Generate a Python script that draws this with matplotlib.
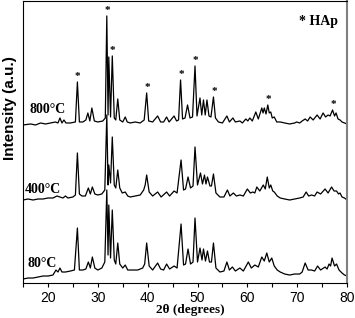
import matplotlib
matplotlib.use('Agg')
import matplotlib.pyplot as plt
import numpy as np

# 2theta (deg) and intensity above each pattern's own baseline (a.u.)
tt_800 = [15.0, 16.5, 17.5, 18.5, 19.5, 20.5, 21.5, 22.0, 22.4, 22.8, 23.2, 23.6, 24.5, 25.5, 25.9, 26.3,
          27.0, 27.6, 28.0, 28.4, 28.8, 29.3, 30.0, 31.0, 31.5, 31.8, 32.05, 32.2, 32.55, 32.9, 33.3, 33.6,
          34.0, 34.4, 35.0, 35.5, 35.9, 36.5, 37.5, 38.5, 39.3, 39.8, 40.2, 41.0, 42.0, 42.6, 43.2, 43.8,
          44.3, 45.3, 45.8, 46.2, 46.6, 47.0, 47.5, 48.0, 48.5, 49.0, 49.5, 49.9, 50.5, 50.85, 51.2, 51.55,
          51.9, 52.3, 52.7, 53.2, 53.6, 54.2, 55.0, 55.9, 56.4, 57.1, 57.6, 58.5, 59.0, 59.7, 60.1, 60.5,
          61.0, 61.7, 62.2, 62.9, 63.15, 63.4, 63.75, 64.1, 64.4, 64.7, 65.0, 65.4, 65.9, 66.6, 67.5, 68.5,
          69.5, 69.9, 70.5, 71.0, 71.6, 72.1, 72.6, 73.2, 74.0, 74.6, 75.2, 75.7, 76.2, 76.6, 77.1, 77.5,
          77.8, 78.2, 78.6, 79.0, 79.5, 80.0]
int_800 = [-1, 0, -1, 1, 0, 1, 2, 1, 6, 1, 4, 1, 1, 2, 42, 2,
           2, 4, 11, 3, 16, 3, 2, 3, 6, 108, 9, 67, 7, 68, 6, 4,
           25, 4, 2, 7, 2, 1, 2, 1, 4, 31, 3, 2, 8, 2, 2, 7,
           2, 8, 3, 4, 44, 5, 6, 19, 6, 7, 58, 8, 26, 9, 24, 9,
           24, 8, 7, 27, 6, 2, 1, 8, 2, 6, 2, 3, 1, 5, 3, 6,
           3, 12, 5, 16, 11, 16, 10, 19, 11, 12, 6, 7, 2, 2, 1, 0,
           1, 2, 1, 3, 5, 3, 7, 4, 9, 5, 11, 7, 9, 8, 14, 8,
           11, 5, 4, 2, 1, 0]

tt_400 = [15.0, 16.0, 17.0, 18.0, 19.0, 20.0, 21.0, 21.8, 22.4, 23.0, 23.5, 24.0, 25.0, 25.5, 25.9, 26.3,
          26.8, 27.5, 28.1, 28.5, 28.9, 29.4, 30.0, 30.8, 31.4, 31.8, 32.05, 32.2, 32.55, 32.9, 33.3, 33.6,
          34.0, 34.4, 34.9, 35.5, 36.0, 36.5, 37.5, 38.5, 39.2, 39.5, 39.8, 40.3, 41.0, 42.0, 42.7, 43.8,
          44.4, 45.3, 45.9, 46.7, 47.2, 47.6, 48.1, 48.6, 49.1, 49.5, 50.0, 50.6, 51.0, 51.4, 51.7, 52.0,
          52.5, 52.8, 53.2, 53.7, 54.5, 55.3, 56.0, 56.5, 57.2, 57.8, 58.5, 59.2, 60.0, 60.6, 61.1, 61.5,
          61.9, 62.5, 63.2, 63.6, 64.0, 64.4, 64.7, 65.1, 65.4, 66.0, 66.6, 67.5, 68.5, 69.5, 70.5, 71.2,
          71.8, 72.3, 72.9, 73.5, 74.0, 74.7, 75.6, 76.2, 76.9, 77.4, 77.9, 78.3, 78.6, 79.0, 79.5, 80.0]
int_400 = [-1, 0, -1, 0, 0, 1, 1, 3, 2, 1, 3, 1, 2, 4, 46, 5,
           3, 3, 11, 5, 12, 5, 4, 5, 9, 84, 14, 34, 16, 62, 14, 11,
           29, 11, 6, 7, 3, 2, 3, 4, 9, 14, 24, 7, 3, 7, 2, 7,
           3, 8, 6, 39, 9, 10, 22, 11, 13, 52, 14, 26, 15, 24, 15, 22,
           13, 13, 25, 6, 2, 2, 9, 3, 6, 3, 4, 3, 10, 6, 7, 6,
           12, 8, 14, 10, 22, 11, 14, 8, 7, 3, 1, 0, -1, 0, 1, 2,
           7, 3, 4, 3, 7, 5, 10, 6, 12, 8, 8, 5, 6, 2, 1, -1]

tt_80 = [15.0, 16.0, 17.0, 18.0, 19.0, 20.0, 21.0, 21.6, 22.0, 22.4, 22.8, 23.5, 24.5, 25.3, 25.9, 26.3,
         27.0, 27.6, 28.1, 28.5, 28.9, 29.4, 30.0, 30.8, 31.4, 31.8, 32.05, 32.2, 32.55, 32.9, 33.3, 33.6,
         34.0, 34.4, 35.0, 35.5, 36.0, 37.0, 38.0, 39.0, 39.4, 39.8, 40.3, 41.0, 42.0, 42.6, 43.2, 43.8,
         44.4, 45.3, 45.9, 46.7, 47.2, 47.6, 48.1, 48.6, 49.1, 49.5, 50.0, 50.5, 50.9, 51.2, 51.6, 52.0,
         52.4, 52.8, 53.2, 53.7, 54.5, 55.3, 55.9, 56.4, 57.0, 57.6, 58.5, 59.2, 60.2, 60.8, 61.5, 62.2,
         62.9, 63.4, 63.9, 64.4, 64.9, 65.4, 66.0, 66.6, 67.5, 68.5, 69.5, 70.5, 71.0, 71.6, 72.2, 72.9,
         73.5, 74.1, 74.7, 75.6, 76.0, 76.4, 76.7, 77.0, 77.5, 77.9, 78.4, 79.0, 79.5, 80.0]
int_80 = [-3, -2, -2, -1, 0, 0, 1, 6, 4, 8, 4, 4, 5, 6, 48, 6,
          6, 7, 14, 8, 19, 8, 6, 8, 14, 86, 21, 71, 18, 66, 16, 12,
          33, 12, 8, 11, 6, 6, 6, 8, 12, 33, 10, 6, 13, 7, 6, 12,
          7, 10, 8, 52, 11, 12, 27, 12, 14, 58, 14, 28, 16, 27, 15, 25,
          14, 14, 33, 8, 4, 5, 14, 6, 9, 5, 8, 5, 14, 8, 11, 9,
          19, 15, 23, 14, 18, 10, 6, 4, 2, 1, 2, 2, 4, 13, 6, 6,
          5, 10, 6, 9, 7, 12, 10, 18, 10, 12, 6, 3, 1, 0]

labels = ['800°C', '400°C', '80°C']
offsets = [159, 84, 7]
hap_peaks = [25.9, 31.8, 32.9, 39.8, 46.6, 49.5, 53.2, 64.1, 77.1]

fig = plt.figure(figsize=(3.55, 3.18), dpi=100)
ax = fig.add_axes([0.065, 0.110, 0.9125, 0.887])

series = [(tt_800, int_800), (tt_400, int_400), (tt_80, int_80)]
for (tt, inten), off in zip(series, offsets):
    ax.plot(tt, np.array(inten) + off, color='black', linewidth=0.9)

# label positions (2theta, height above pattern baseline)
label_pos = [(16.2, 11), (15.4, 6), (15.8, 9)]
for lab, off, (lx, ly) in zip(labels, offsets, label_pos):
    ax.text(lx, off + ly, lab, fontfamily='Liberation Serif', fontweight='bold',
            fontsize=10, ha='left', va='baseline')

# asterisks on the HAp reflections of the 800 C pattern
for p in hap_peaks:
    top = np.interp(p, tt_800, int_800) + offsets[0]
    ax.annotate('*', (p, top), xytext=(0.3, 0.5), textcoords='offset points',
                ha='center', va='bottom', fontfamily='Liberation Serif',
                fontweight='bold', fontsize=8)

ax.text(0.853, 0.915, '* HAp', transform=ax.transAxes, fontfamily='Liberation Serif',
        fontweight='bold', fontsize=10, ha='left', va='baseline')

ax.set_xlim(15, 80)
ax.set_ylim(0, 282)
ax.set_xticks(range(20, 81, 10))
ax.set_xticks(range(15, 81, 5), minor=True)
ax.set_yticks([])
ax.tick_params(axis='x', which='both', direction='out', length=3, width=0.8,
               labelsize=10, pad=3)
for t in ax.get_xticklabels():
    t.set_fontfamily('Liberation Sans')
ax.spines['right'].set_color('#808080')
ax.spines['right'].set_linewidth(1.5)

ax.set_xlabel('2θ (degrees)', fontfamily='Liberation Serif', fontweight='bold',
              fontsize=9.5, labelpad=0)
ax.xaxis.set_label_coords(0.515, -0.076)
ax.set_ylabel('Intensity (a.u.)', fontfamily='Liberation Sans', fontweight='bold',
              fontsize=11, labelpad=2)
ax.yaxis.set_label_coords(-0.019, 0.62)

fig.savefig('out.png', dpi=100)
